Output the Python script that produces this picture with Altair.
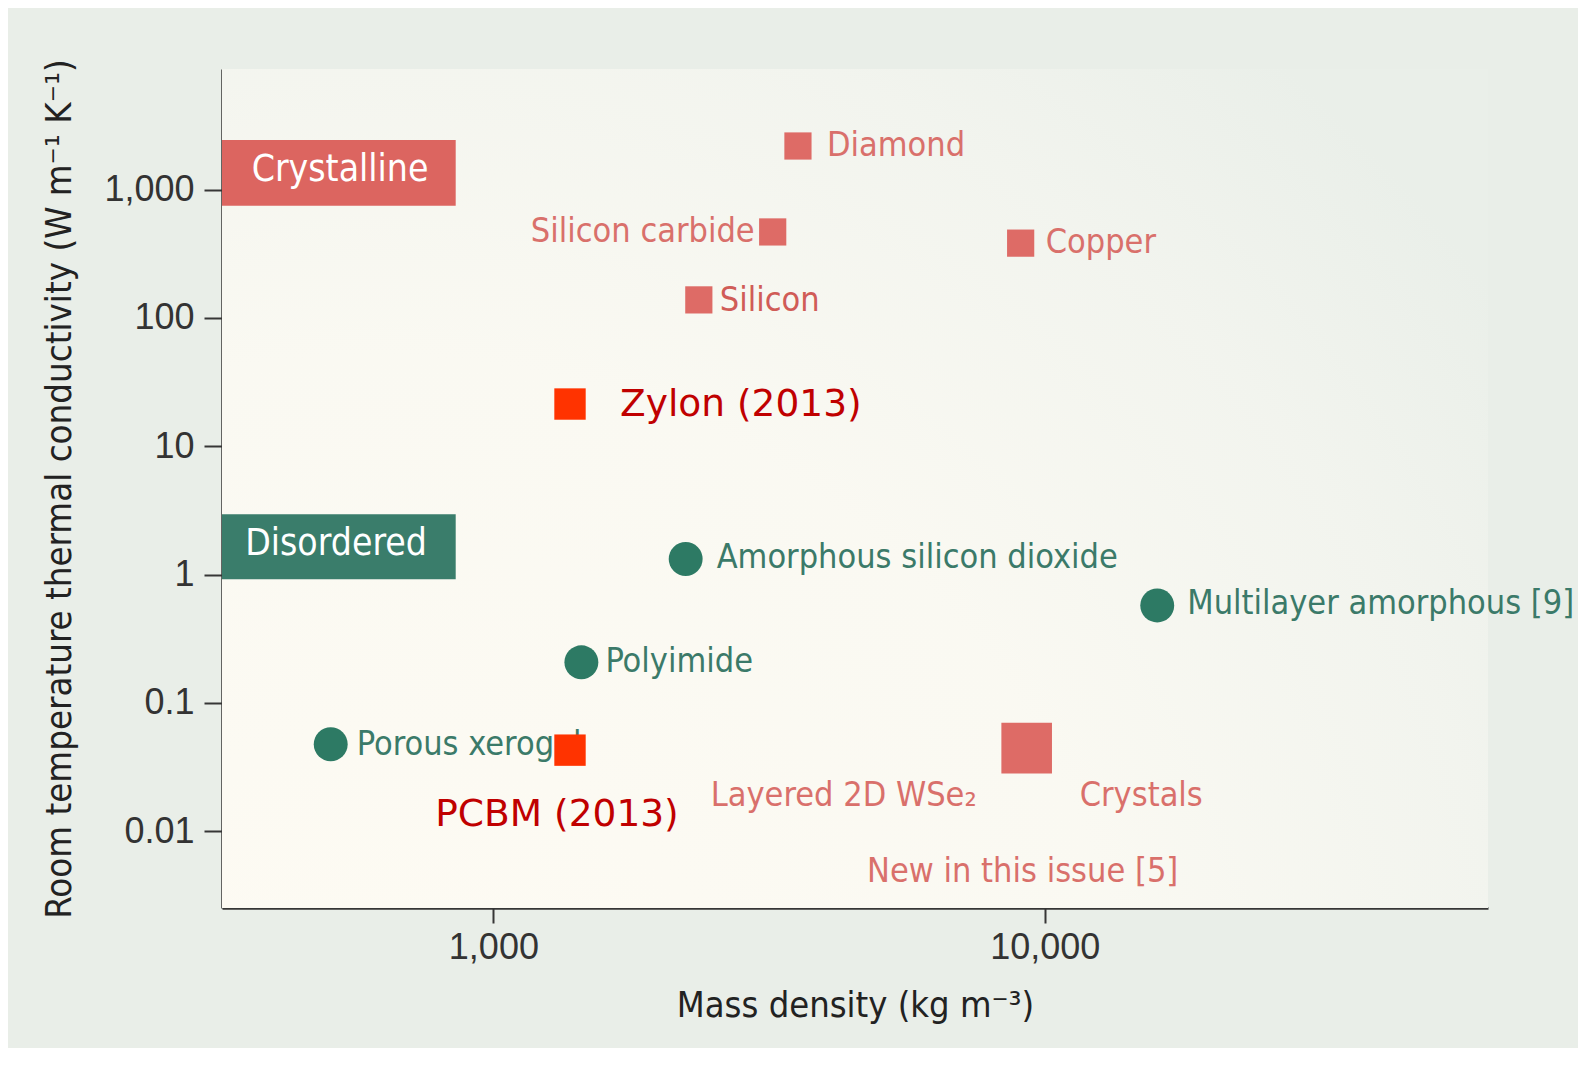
import altair as alt
import pandas as pd

# ---------------- data ----------------
cryst_names = ["Diamond", "Silicon carbide", "Copper", "Silicon"]
cryst_density = [3567, 3210, 9040, 2358]
cryst_k = [2183, 467, 382, 138]

disord_names = ["Amorphous silicon dioxide", "Multilayer amorphous [9]", "Polyimide", "Porous xerogel"]
disord_density = [2232, 15990, 1444, 507]
disord_k = [1.32, 0.574, 0.207, 0.0476]

new_names = ["Zylon (2013)", "PCBM (2013)"]
new_density = [1377, 1377]
new_k = [21.3, 0.0428]

wse2_names = ["Layered 2D WSe₂"]
wse2_density = [9270]
wse2_k = [0.0444]

badge_names = ["Crystalline", "Disordered"]

x_ticks = [1000, 10000]
y_ticks = [0.01, 0.1, 1, 10, 100, 1000]

# ---------------- styling ----------------
W, H = 1266, 839
XDOM = [322, 63630]
YDOM = [0.00252, 8690]
LABEL_FONT = "'DejaVu Sans Condensed', 'Liberation Sans Narrow', sans-serif"
TICK_FONT = "'Liberation Sans', Arial, sans-serif"
LS = 34  # label font size
RED = "#de6b66"
RED_TXT = "#d9706b"
GREEN = "#2d7a64"
GREEN_TXT = "#3b7a69"
NEW_RED = "#ff3300"
NEW_TXT = "#c00000"
AXIS_C = "#363636"

cryst = pd.DataFrame({"name": cryst_names, "density": cryst_density, "k": cryst_k})
disord = pd.DataFrame({"name": disord_names, "density": disord_density, "k": disord_k})
new = pd.DataFrame({"name": new_names, "density": new_density, "k": new_k})
wse2 = pd.DataFrame({"name": wse2_names, "density": wse2_density, "k": wse2_k})

xs = alt.Scale(type="log", domain=XDOM, nice=False)
ys = alt.Scale(type="log", domain=YDOM, nice=False)

x_axis = alt.Axis(
    values=x_ticks, format=",", title="Mass density (kg m⁻³)",
    grid=False, domainColor=AXIS_C, domainWidth=2.5, tickColor=AXIS_C, tickWidth=2,
    tickSize=15, labelPadding=7, labelFont=TICK_FONT, labelFontSize=36, labelColor="#333",
    titleFont=LABEL_FONT, titleFontSize=36, titleFontWeight="normal", titleColor="#222",
    titleX=W / 2, titleY=97, titleBaseline="middle", titleAnchor="middle",
)
y_axis = alt.Axis(
    values=y_ticks, labelExpr="format(datum.value, ',')",
    title="Room temperature thermal conductivity (W m⁻¹ K⁻¹)",
    grid=False, domainColor=AXIS_C, domainWidth=2.5, tickColor=AXIS_C, tickWidth=2,
    tickSize=18, labelPadding=10, labelFont=TICK_FONT, labelFontSize=36, labelColor="#333",
    titleFont=LABEL_FONT, titleFontSize=36.3, titleFontWeight="normal", titleColor="#222",
    titleX=-163, titleY=H / 2, titleAngle=-90, titleBaseline="middle", titleAnchor="middle",
)

X = alt.X("density:Q", scale=xs, axis=x_axis)
Y = alt.Y("k:Q", scale=ys, axis=y_axis)

one = alt.Data(values=[{"a": 1}])

# radial gradient background in plot area
bg = alt.Chart(one).mark_rect(
    fill={
        "gradient": "radial",
        "x1": 0.12, "y1": 1.0, "r1": 0.0,
        "x2": 0.12, "y2": 1.0, "r2": 1.1,
        "stops": [
            {"offset": 0.0, "color": "#fefbf3"},
            {"offset": 0.55, "color": "#faf9f2"},
            {"offset": 0.82, "color": "#f2f4ee"},
            {"offset": 1.0, "color": "#eaefe9"},
        ],
    }
).encode(x=alt.value(0), x2=alt.value(W), y=alt.value(0), y2=alt.value(H))

# badges
badge_c = alt.Chart(one).mark_rect(fill="#dc6560").encode(
    x=alt.value(0), x2=alt.value(233.7), y=alt.value(70.9), y2=alt.value(136.7))
badge_d = alt.Chart(one).mark_rect(fill="#3a7d6b").encode(
    x=alt.value(0), x2=alt.value(233.7), y=alt.value(445.2), y2=alt.value(510.2))
badge_ct = alt.Chart(one).mark_text(
    text=badge_names[0], font=LABEL_FONT, fontSize=37, color="white", align="center", baseline="middle"
).encode(x=alt.value(118), y=alt.value(101))
badge_dt = alt.Chart(one).mark_text(
    text=badge_names[1], font=LABEL_FONT, fontSize=37, color="white", align="center", baseline="middle"
).encode(x=alt.value(114), y=alt.value(475))


def label(df, name, color, dx, dy=0, align="left", size=LS, font=LABEL_FONT, weight="normal"):
    return alt.Chart(df).transform_filter(alt.datum.name == name).mark_text(
        font=font, fontSize=size, color=color, align=align, baseline="middle",
        dx=dx, dy=dy, fontWeight=weight,
    ).encode(x=X, y=Y, text="name:N")


texts = [
    label(cryst, "Diamond", RED_TXT, 29),
    label(cryst, "Silicon carbide", RED_TXT, -18, align="right"),
    label(cryst, "Copper", RED_TXT, 25),
    label(cryst, "Silicon", "#d05c57", 21, 1),
    label(disord, "Amorphous silicon dioxide", GREEN_TXT, 31, -1),
    label(disord, "Multilayer amorphous [9]", GREEN_TXT, 30, -1),
    label(disord, "Polyimide", GREEN_TXT, 24),
    label(disord, "Porous xerogel", GREEN_TXT, 26, 1),
]

wse2_texts = [
    alt.Chart(wse2).mark_text(font=LABEL_FONT, fontSize=LS, color=RED_TXT, align="right",
                              baseline="middle", dx=-50, dy=48).encode(x=X, y=Y, text="name:N"),
    alt.Chart(wse2).mark_text(font=LABEL_FONT, fontSize=LS, color=RED_TXT, align="left",
                              baseline="middle", dx=53, dy=48, text="Crystals").encode(x=X, y=Y),
    alt.Chart(wse2).mark_text(font=LABEL_FONT, fontSize=LS, color=RED_TXT, align="center",
                              baseline="middle", dx=-4, dy=124, text="New in this issue [5]").encode(x=X, y=Y),
]

cryst_pts = alt.Chart(cryst).mark_square(size=740, color=RED, opacity=1).encode(x=X, y=Y)
disord_pts = alt.Chart(disord).mark_circle(size=1150, color=GREEN, opacity=1).encode(x=X, y=Y)
wse2_pt = alt.Chart(wse2).mark_square(size=2560, color=RED, opacity=1).encode(x=X, y=Y)
new_pts = alt.Chart(new).mark_square(size=985, color=NEW_RED, opacity=1).encode(x=X, y=Y)

zylon_txt = label(new, "Zylon (2013)", NEW_TXT, 50, 1, size=37.5, font="'DejaVu Sans', Verdana, sans-serif")
pcbm_txt = label(new, "PCBM (2013)", NEW_TXT, -13, 65, align="center", size=37.5,
                 font="'DejaVu Sans', Verdana, sans-serif")

chart = alt.layer(
    bg, cryst_pts, badge_c, badge_d, badge_ct, badge_dt,
    *texts, *wse2_texts, disord_pts, wse2_pt, new_pts, zylon_txt, pcbm_txt,
).properties(
    width=W, height=H,
    autosize=alt.AutoSizeParams(type="none"),
    padding={"left": 214, "top": 61, "right": 90, "bottom": 140},
    background="#e9eee8",
).configure_view(stroke=None)

chart.save("out.html", embed_options={"renderer": "svg", "actions": False})
